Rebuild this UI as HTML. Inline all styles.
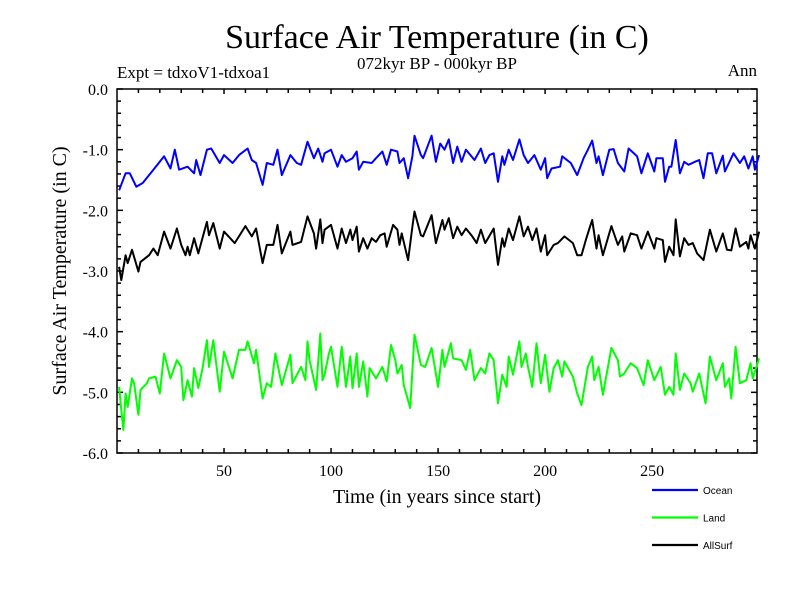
<!DOCTYPE html>
<html><head><meta charset="utf-8"><style>
body{margin:0;background:#fff}
svg{display:block}
text{font-family:"Liberation Serif",serif;fill:#000}
</style></head><body>
<svg id="chart" width="800" height="600">
<text x="437" y="48" font-size="34" text-anchor="middle">Surface Air Temperature (in C)</text>
<text x="437" y="69" font-size="17" text-anchor="middle">072kyr BP - 000kyr BP</text>
<text x="117" y="78" font-size="17">Expt = tdxoV1-tdxoa1</text>
<text x="757" y="76" font-size="17" text-anchor="end">Ann</text>
<text x="437" y="503" font-size="20" text-anchor="middle">Time (in years since start)</text>
<text x="0" y="0" font-size="20" text-anchor="middle" transform="translate(66,271) rotate(-90)">Surface Air Temperature (in C)</text>
<g id="axes"></g>
<g id="series"></g>
<g id="legend"></g>
</svg>
<script>
const yTicks=[0,-1,-2,-3,-4,-5,-6];
const yTickLabels=["0.0","-1.0","-2.0","-3.0","-4.0","-5.0","-6.0"];
const xTicks=[50,100,150,200,250];
const seriesNames=["Ocean","Land","AllSurf"];
const seriesColors=["#0000ff","#00ff00","#000000"];
const oceanYears=[1,4,6,9,12,17,22,25,27,29,33,36,37,39,42,44,48,50,54,57,61,63,65,68,70,73,75,77,81,84,86,89,92,94,96,97,100,103,105,107,110,112,113,115,119,121,124,126,128,131,132,134,136,138,139,142,143,147,149,151,153,155,157,159,161,163,167,170,172,174,176,178,180,181,183,185,188,190,192,195,198,200,201,203,207,208,212,215,218,220,222,224,225,227,230,232,234,237,239,243,245,248,251,252,255,256,258,259,261,263,265,267,270,272,274,276,278,280,283,284,288,291,293,295,297,298,300];
const oceanValues=[-1.67,-1.39,-1.39,-1.61,-1.55,-1.33,-1.11,-1.31,-1.00,-1.33,-1.28,-1.39,-1.17,-1.42,-1.00,-0.98,-1.22,-1.09,-1.22,-1.09,-0.98,-1.17,-1.22,-1.58,-1.22,-1.25,-1.00,-1.42,-1.09,-1.22,-1.25,-0.87,-1.14,-0.98,-1.20,-1.06,-1.00,-1.28,-1.09,-1.20,-1.14,-1.03,-1.33,-1.20,-1.22,-1.14,-1.03,-1.25,-1.00,-1.03,-1.22,-1.14,-1.47,-1.11,-0.77,-1.09,-1.14,-0.77,-1.20,-0.90,-1.00,-0.83,-1.22,-0.95,-1.20,-1.00,-1.17,-0.98,-1.22,-1.09,-1.06,-1.53,-1.11,-1.25,-1.00,-1.17,-0.83,-1.09,-1.22,-1.09,-1.33,-1.14,-1.47,-1.31,-1.28,-1.11,-1.22,-1.42,-1.14,-1.00,-0.85,-1.22,-1.11,-1.42,-1.00,-0.99,-1.22,-1.36,-0.98,-1.11,-1.39,-1.06,-1.36,-1.14,-1.14,-1.53,-1.28,-1.28,-0.84,-1.39,-1.20,-1.25,-1.20,-1.17,-1.47,-1.06,-1.06,-1.39,-1.10,-1.36,-1.06,-1.22,-1.11,-1.31,-1.11,-1.33,-1.09];
const allYears=[1,2,4,5,7,10,11,15,17,19,22,25,28,30,32,33,34,36,38,42,43,45,48,50,55,60,63,65,68,70,73,75,77,81,82,86,89,92,93,95,96,97,100,103,105,107,109,110,112,113,115,117,119,121,123,125,126,129,131,132,133,136,138,139,142,143,147,149,152,153,155,157,159,161,163,166,168,170,172,176,178,180,181,183,185,188,190,192,194,196,198,200,201,204,206,209,213,215,217,219,221,222,224,225,227,231,234,236,237,240,243,245,248,251,252,255,256,258,260,261,263,265,267,269,271,274,277,280,283,285,287,289,291,294,295,296,298,300];
const allValues=[-2.93,-3.15,-2.74,-2.87,-2.65,-3.01,-2.85,-2.74,-2.63,-2.74,-2.35,-2.63,-2.30,-2.57,-2.74,-2.60,-2.74,-2.46,-2.71,-2.19,-2.41,-2.21,-2.63,-2.35,-2.54,-2.26,-2.43,-2.30,-2.87,-2.57,-2.57,-2.24,-2.71,-2.35,-2.57,-2.52,-2.10,-2.38,-2.63,-2.15,-2.54,-2.32,-2.24,-2.63,-2.30,-2.54,-2.32,-2.49,-2.27,-2.68,-2.46,-2.63,-2.46,-2.52,-2.41,-2.38,-2.60,-2.24,-2.32,-2.57,-2.38,-2.82,-2.27,-2.02,-2.41,-2.43,-2.08,-2.54,-2.16,-2.32,-2.13,-2.46,-2.27,-2.41,-2.30,-2.43,-2.54,-2.32,-2.54,-2.30,-2.90,-2.46,-2.60,-2.30,-2.49,-2.10,-2.43,-2.27,-2.49,-2.30,-2.68,-2.41,-2.74,-2.57,-2.54,-2.43,-2.54,-2.74,-2.74,-2.49,-2.27,-2.16,-2.63,-2.41,-2.74,-2.26,-2.57,-2.43,-2.68,-2.38,-2.41,-2.63,-2.35,-2.63,-2.46,-2.49,-2.85,-2.60,-2.74,-2.15,-2.76,-2.46,-2.57,-2.54,-2.71,-2.82,-2.32,-2.68,-2.38,-2.65,-2.66,-2.30,-2.60,-2.52,-2.63,-2.41,-2.63,-2.35];
const landYears=[1,2,3,4,5,7,8,10,11,14,15,18,20,22,25,28,30,31,33,35,36,38,40,42,43,45,48,50,54,57,60,61,64,65,68,70,72,74,77,81,82,86,88,89,90,93,95,96,97,99,100,103,105,107,109,110,112,113,115,117,118,121,124,126,128,130,131,133,134,137,139,142,144,147,150,152,153,156,157,161,163,165,167,170,172,174,176,178,180,182,183,185,188,189,191,192,194,196,198,200,202,204,206,208,209,213,215,217,220,222,223,225,227,231,234,235,237,240,243,246,248,251,254,256,258,260,261,263,265,268,269,272,275,277,280,283,284,286,287,289,291,294,296,297,300];
const landValues=[-4.91,-5.29,-5.62,-5.02,-5.24,-4.77,-4.85,-5.37,-4.96,-4.85,-4.77,-4.74,-5.02,-4.36,-4.77,-4.47,-4.58,-5.13,-4.80,-5.07,-4.60,-4.93,-4.60,-4.14,-4.58,-4.14,-4.99,-4.33,-4.77,-4.30,-4.30,-4.16,-4.52,-4.30,-5.10,-4.85,-4.91,-4.36,-4.88,-4.38,-4.85,-4.58,-4.80,-4.16,-4.47,-4.96,-4.03,-4.80,-4.71,-4.36,-4.25,-4.91,-4.25,-4.91,-4.41,-4.93,-4.36,-4.91,-4.49,-5.07,-4.60,-4.77,-4.58,-4.82,-4.22,-4.47,-4.69,-4.55,-4.88,-5.26,-4.05,-4.55,-4.58,-4.27,-4.91,-4.30,-4.58,-4.19,-4.44,-4.47,-4.63,-4.30,-4.80,-4.60,-4.69,-4.36,-4.47,-5.18,-4.71,-4.91,-4.41,-4.71,-4.16,-4.58,-4.36,-4.58,-4.91,-4.19,-4.85,-4.38,-4.99,-4.60,-4.47,-4.74,-4.49,-4.74,-5.02,-5.21,-4.58,-4.41,-4.80,-4.58,-5.04,-4.27,-4.47,-4.74,-4.69,-4.52,-4.60,-4.88,-4.47,-4.80,-4.58,-5.04,-4.91,-5.04,-4.36,-4.96,-4.69,-4.85,-4.99,-4.69,-5.18,-4.41,-4.80,-4.52,-4.91,-4.77,-5.10,-4.25,-4.85,-4.80,-4.52,-4.77,-4.44];

const L=117,R=757,T=89,B=453,X0=0,X1=299,Y0=-6,Y1=0;
const sx=v=>L+(v-X0)/(X1-X0)*(R-L);
const sy=v=>B-(v-Y0)/(Y1-Y0)*(B-T);
const NS="http://www.w3.org/2000/svg";
function mk(tag,attrs,parent){const e=document.createElementNS(NS,tag);for(const k in attrs)e.setAttribute(k,attrs[k]);parent.appendChild(e);return e;}
const axes=document.getElementById('axes');
const frame=mk('rect',{x:L,y:T,width:R-L,height:B-T,fill:'none',stroke:'#000','stroke-width':1.5},axes);


for(let v=-6;v<=0.001;v+=0.2){
  const major=Math.abs(v-Math.round(v))<0.01;const len=major?6:4;const y=sy(v);
  const t1=mk('line',{x1:L,x2:L+len,y1:y,y2:y,stroke:'#000','stroke-width':1.5},axes);
  
  
  const t2=mk('line',{x1:R,x2:R-len,y1:y,y2:y,stroke:'#000','stroke-width':1.5},axes);
  
  
}
yTicks.forEach((v,i)=>{
  const t=mk('text',{x:108,y:sy(v)+6,'font-size':16,'text-anchor':'end'},axes);t.textContent=yTickLabels[i];
  
  
});
for(let v=10;v<=290;v+=10){
  const major=v%50===0;const len=major?5:4;const x=sx(v);
  const t1=mk('line',{x1:x,x2:x,y1:B,y2:B-len,stroke:'#000','stroke-width':1.5},axes);
  
  
  const t2=mk('line',{x1:x,x2:x,y1:T,y2:T+len,stroke:'#000','stroke-width':1.5},axes);
  
  
}
xTicks.forEach(v=>{
  const t=mk('text',{x:sx(v),y:476,'font-size':16,'text-anchor':'middle'},axes);t.textContent=String(v);
  
  
});
const sg=document.getElementById('series');
function drawSeries(xs,ys,color,name){
  const d=xs.map((x,i)=>(i?'L':'M')+sx(x).toFixed(1)+','+sy(ys[i]).toFixed(1)).join(' ');
  const p=mk('path',{d:d,fill:'none',stroke:color,'stroke-width':2,'stroke-linejoin':'round'},sg);
  
  
}
drawSeries(oceanYears,oceanValues,seriesColors[0],'ocean');
drawSeries(landYears,landValues,seriesColors[1],'land');
drawSeries(allYears,allValues,seriesColors[2],'allsurf');
const lg=document.getElementById('legend');
seriesNames.forEach((n,i)=>{
  const y=490+i*27.5;
  const g=mk('g',{},lg);
  
  
  mk('line',{x1:652,x2:698,y1:y,y2:y,stroke:seriesColors[i],'stroke-width':2.2},g);
  const t=mk('text',{x:703,y:y+4,'font-size':10,style:'font-family:"Liberation Sans",sans-serif'},g);t.textContent=n;
});
</script>
</body></html>
